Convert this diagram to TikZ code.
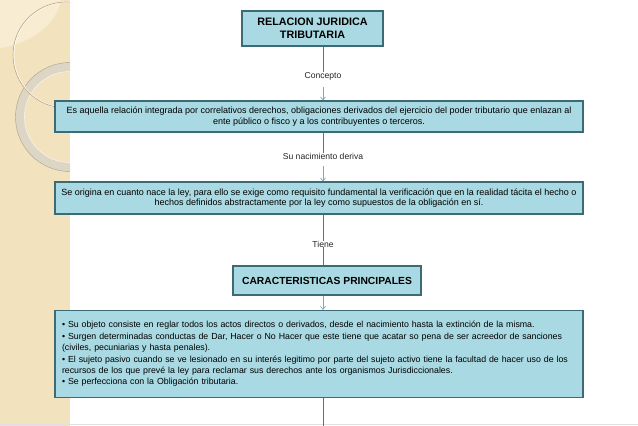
\documentclass[tikz,border=0pt]{standalone}
\usepackage{fontspec}
\setmainfont{Liberation Sans}
\usetikzlibrary{arrows.meta}
\definecolor{boxfill}{HTML}{A9D9E2}
\definecolor{boxline}{HTML}{3C6B76}
\definecolor{conn}{HTML}{467B88}
\definecolor{arr}{HTML}{7FAAB6}
\definecolor{strip}{HTML}{F2E2BE}
\definecolor{striplight}{HTML}{F8EDD3}
\definecolor{ringc}{HTML}{DDD6C5}
\definecolor{arcc}{HTML}{BFA77B}
\tikzset{
  box/.style={draw=boxline, line width=1.2pt, fill=boxfill, inner sep=0pt, text=black},
  lbl/.style={font=\fontsize{8.6}{9}\selectfont, text=black!85, inner sep=1pt},
  conline/.style={draw=conn, line width=0.8pt},
  conarrow/.style={draw=arr, line width=0.7pt, -{Straight Barb[length=3pt,width=5pt]}},
}
\begin{document}
\begin{tikzpicture}[x=1pt,y=-1pt]
\useasboundingbox (0,0) rectangle (638,426);
\fill[white] (0,0) rectangle (638,426);
% decorative strip
\begin{scope}
\clip (0,0) rectangle (70,426);
\fill[strip] (0,0) rectangle (70,426);
\fill[striplight] (0,0) -- (0,48) .. controls (30,44) and (57,24) .. (61,0) -- cycle;
\draw[ringc, line width=9pt] (70,117) circle (50);
\draw[white!70!ringc, line width=0.6pt] (70,117) circle (45.5);
\draw[black!25!ringc, line width=0.4pt] (70,117) circle (54.5);
\draw[white, line width=1.4pt] (66.5,55) circle (53);
\draw[arcc, line width=0.7pt] (66,55) circle (53);
\end{scope}
\draw[black!12, line width=0.5pt] (0,424.5) -- (638,424.5);

% nodes
\node[box, minimum width=141, minimum height=35, align=center,
  font=\fontsize{10.8}{13}\selectfont\bfseries] (t) at (312.5,28.5)
  {RELACION JURIDICA\\TRIBUTARIA};
\node[lbl] (l1) at (323,76) {Concepto};
\node[box, minimum width=528, minimum height=31, align=center,
  font=\fontsize{9}{10.5}\selectfont] (b2) at (319,116.5)
  {Es aquella relación integrada por correlativos derechos, obligaciones derivados del ejercicio del poder tributario que enlazan al\\
   ente público o fisco y a los contribuyentes o terceros.};
\node[lbl] (l2) at (323,156) {Su nacimiento deriva};
\node[box, minimum width=528, minimum height=32, align=center,
  font=\fontsize{9}{10.5}\selectfont] (b3) at (319,198)
  {Se origina en cuanto nace la ley, para ello se exige como requisito fundamental la verificación que en la realidad tácita el hecho o\\
   hechos definidos abstractamente por la ley como supuestos de la obligación en sí.};
\node[lbl] (l3) at (323,244) {Tiene};
\node[box, minimum width=188, minimum height=29, font=\fontsize{10.3}{12}\selectfont\bfseries]
  (c) at (327,280.5) {CARACTERISTICAS PRINCIPALES};
\node[box, minimum width=528, minimum height=87, align=left, text width=514,
  font=\fontsize{8.8}{11.4}\selectfont] (b5) at (319,354)
  {• Su objeto consiste en reglar todos los actos directos o derivados, desde el nacimiento hasta la extinción de la misma.\\
   • Surgen determinadas conductas de Dar, Hacer o No Hacer que este tiene que acatar so pena de ser acreedor de sanciones\\
   (civiles, pecuniarias y hasta penales).\\
   • El sujeto pasivo cuando se ve lesionado en su interés legitimo por parte del sujeto activo tiene la facultad de hacer uso de los\\
   recursos de los que prevé la ley para reclamar sus derechos ante los organismos Jurisdiccionales.\\
   • Se perfecciona con la Obligación tributaria.};
\coordinate (end) at (323,426);

% connectors
\draw[conline] (t.south -| l1) -- ([yshift=-1pt]l1.north);
\draw[conarrow] (l1.south) ++(0,6) -- (b2.north -| l1);
\draw[conline] (b2.south -| l2) -- ([yshift=-1pt]l2.north);
\draw[conarrow] (l2.south) ++(0,6) -- (b3.north -| l2);
\draw[conline] (b3.south -| l3) -- ([yshift=-1pt]l3.north);
\draw[conline] ([yshift=1pt]l3.south) -- (c.north -| l3);
\draw[conarrow] (c.south -| l3) -- (b5.north -| l3);
\draw[conline] (b5.south -| end) -- (end);
\end{tikzpicture}
\end{document}
